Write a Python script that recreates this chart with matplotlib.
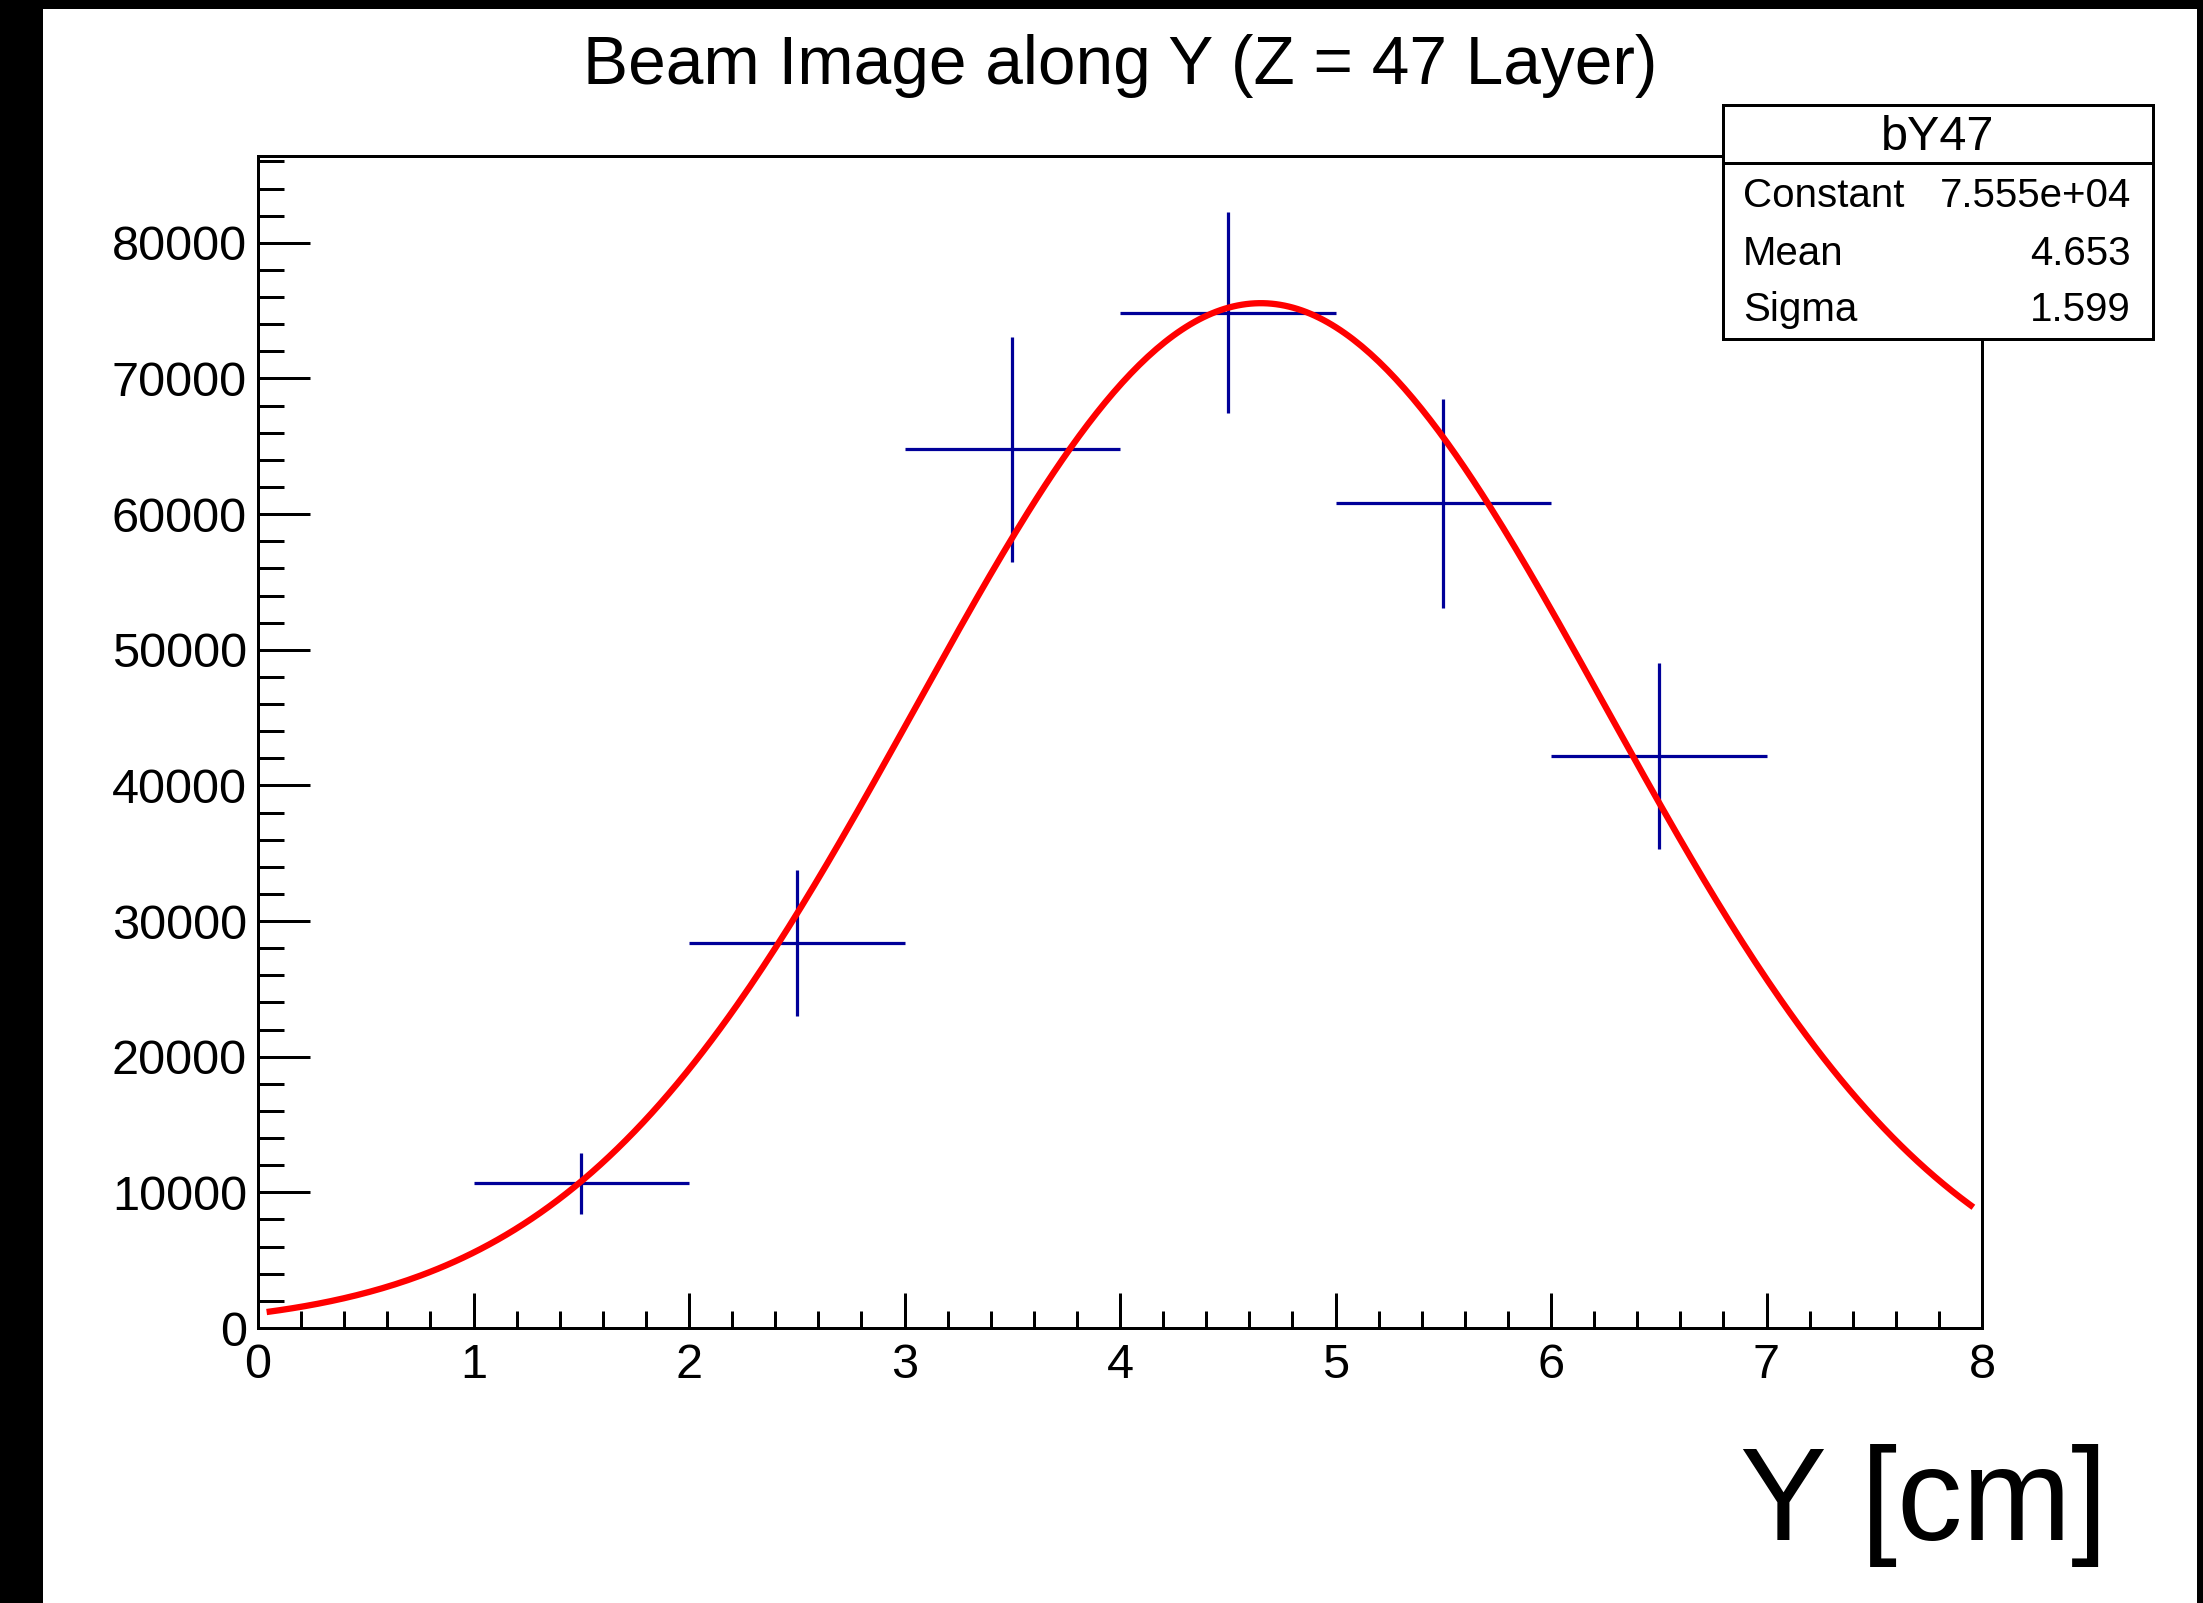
import numpy as np
import matplotlib
matplotlib.use("Agg")
import matplotlib.pyplot as plt
from matplotlib.patches import Rectangle
from matplotlib.lines import Line2D

# ---- data ----
bin_centers = [1.5, 2.5, 3.5, 4.5, 5.5, 6.5]
bin_half_width = [0.5, 0.5, 0.5, 0.5, 0.5, 0.5]
counts = [10660, 28390, 64770, 74840, 60800, 42175]
count_errors = [2270, 5400, 8300, 7400, 7715, 6855]

fit_name = "bY47"
fit_constant = 7.555e4
fit_mean = 4.653
fit_sigma = 1.599
fit_range = [0.04, 7.96]

stat_labels = ["Constant", "Mean", "Sigma"]
stat_values = ["7.555e+04", "4.653", "1.599"]

title = "Beam Image along Y (Z = 47 Layer)"
xlabel = "Y [cm]"
x_ticks = [0, 1, 2, 3, 4, 5, 6, 7, 8]
y_ticks = [0, 10000, 20000, 30000, 40000, 50000, 60000, 70000, 80000]

# ---- figure ----
W, H = 2203, 1603
DPI = 100
plt.rcParams['font.family'] = ['Liberation Sans', 'DejaVu Sans']
fig = plt.figure(figsize=(W / DPI, H / DPI), dpi=DPI, facecolor='black')

def fx(x):
    return x / W

def fy(y):
    return 1 - y / H

PT = 72.0 / DPI  # points per pixel

# white canvas inside black border
fig.add_artist(Rectangle((fx(43), 0), fx(2197) - fx(43), fy(9), transform=fig.transFigure,
                         facecolor='white', edgecolor='none', zorder=0))

ax_l, ax_r, ax_t, ax_b = 258, 1982, 156, 1328
ax = fig.add_axes([fx(ax_l), fy(ax_b), fx(ax_r) - fx(ax_l), fy(ax_t) - fy(ax_b)])
ax.set_facecolor('white')
for s in ax.spines.values():
    s.set_linewidth(3 * PT)
    s.set_color('black')

blue = '#000099'
ax.errorbar(bin_centers, counts, xerr=bin_half_width, yerr=count_errors, fmt='none',
            ecolor=blue, elinewidth=3.2 * PT, capsize=0, zorder=2)

xs = np.linspace(fit_range[0], fit_range[1], 400)
ys = fit_constant * np.exp(-0.5 * ((xs - fit_mean) / fit_sigma) ** 2)
ax.plot(xs, ys, color='#ff0000', lw=6.3 * PT, zorder=3, solid_capstyle='butt')

ax.set_xlim(0, 8)
ax.set_ylim(0, 86400)
ax.set_xticks(x_ticks)
ax.set_xticks(np.arange(0, 8.01, 0.2), minor=True)
ax.set_yticks(y_ticks)
ax.set_yticks(np.arange(0, 86400, 2000), minor=True)
ax.set_xticklabels([str(v) for v in x_ticks])
ax.set_yticklabels([str(v) for v in y_ticks])

ax.tick_params(axis='x', which='major', direction='in', length=35 * PT, width=3 * PT,
               pad=11, labelsize=35, top=False)
ax.tick_params(axis='x', which='minor', direction='in', length=17.5 * PT, width=3 * PT, top=False)
ax.tick_params(axis='y', which='major', direction='in', length=52 * PT, width=3 * PT,
               pad=8, labelsize=35, right=False)
ax.tick_params(axis='y', which='minor', direction='in', length=26 * PT, width=3 * PT, right=False)

# title
fig.text(fx(1120), fy(84), title, ha='center', va='baseline', fontsize=48.7, color='black')
# x label
fig.text(fx(2107), fy(1540), xlabel, ha='right', va='baseline', fontsize=94, color='black')

# stat box
bx0, bx1, by0, by1, bsep = 1723, 2153, 105, 339, 163
fig.add_artist(Rectangle((fx(bx0), fy(by1)), fx(bx1) - fx(bx0), fy(by0) - fy(by1),
                         transform=fig.transFigure, facecolor='white', edgecolor='black',
                         linewidth=3 * PT, zorder=10))
fig.add_artist(Line2D([fx(bx0), fx(bx1)], [fy(bsep), fy(bsep)], transform=fig.transFigure,
                      color='black', linewidth=3 * PT, zorder=11))
fig.text(fx((bx0 + bx1) / 2), fy(150), fit_name, ha='center', va='baseline', fontsize=35, zorder=12)
row_baselines = [207, 265, 321]
for lab, val, yb in zip(stat_labels, stat_values, row_baselines):
    fig.text(fx(1743), fy(yb), lab, ha='left', va='baseline', fontsize=29, zorder=12)
    fig.text(fx(2131), fy(yb), val, ha='right', va='baseline', fontsize=29, zorder=12)

fig.savefig('out.png', dpi=DPI, facecolor=fig.get_facecolor())
